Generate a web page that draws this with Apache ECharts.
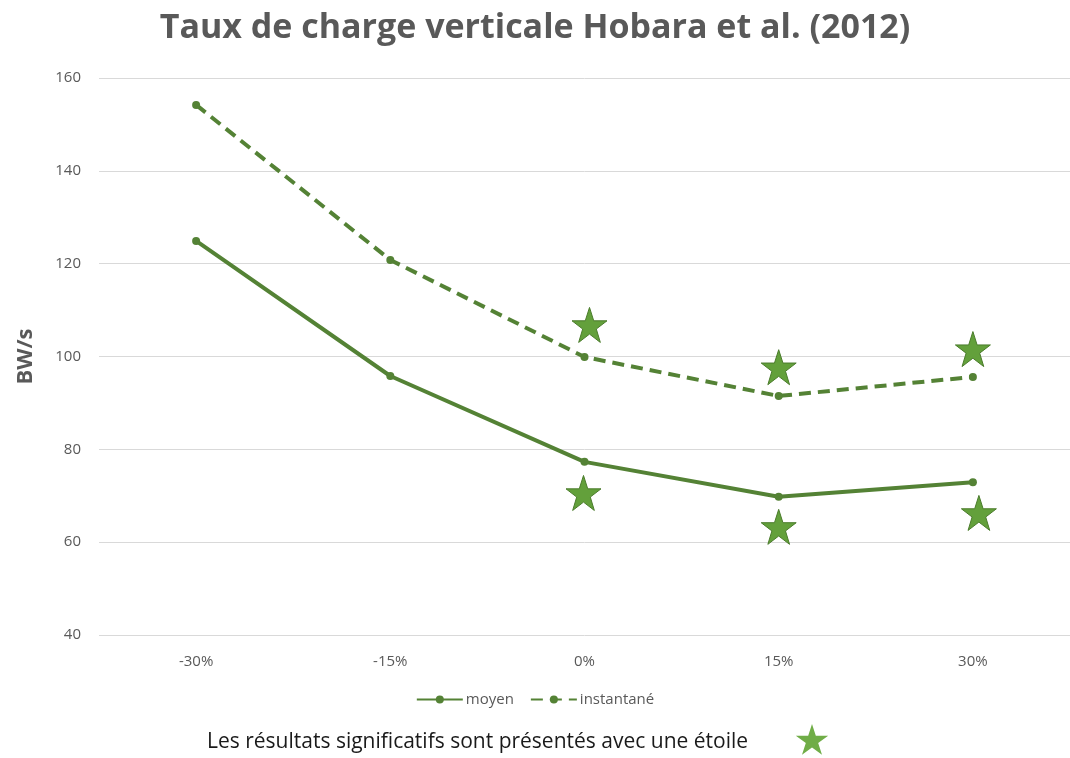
<!DOCTYPE html>
<html>
<head>
<meta charset="utf-8">
<script src="https://cdn.jsdelivr.net/npm/echarts@6/dist/echarts.min.js"></script>
<style>html,body{margin:0;padding:0;background:#fff}#c{width:1070px;height:758px}</style>
</head>
<body>
<div id="c"></div>
<script>
const categories = ['-30%', '-15%', '0%', '15%', '30%'];
const moyen = [124.9, 95.8, 77.3, 69.8, 72.9];
const instantane = [154.2, 120.8, 99.9, 91.5, 95.6];
const starCategories = ['0%', '0%', '15%', '15%', '30%', '30%'];
const starValues = [106.8, 70.6, 97.7, 63.3, 101.6, 66.3];
const starShift = [5, -1, 0, 0, 0, 6];

const STAR = 'path://M50,0 L61.8,35.1 L98.9,35.1 L69,56.7 L80.3,91.9 L50,70 L19.7,91.9 L31,56.7 L1.1,35.1 L38.2,35.1 Z';
function starPoints(cx, cy, R) {
  const pts = [];
  for (let i = 0; i < 10; i++) {
    const r = i % 2 === 0 ? R : R * 0.382;
    const a = -Math.PI / 2 + i * Math.PI / 5;
    pts.push([cx + r * Math.cos(a), cy + r * Math.sin(a)]);
  }
  return pts;
}
const lineColor = '#548235';
const chart = echarts.init(document.getElementById('c'));
chart.setOption({
  animation: false,
  title: {
    text: 'Taux de charge verticale Hobara et al. (2012)',
    left: 'center', top: 6,
    textStyle: { fontFamily: 'Open Sans', fontWeight: 'bold', fontSize: 34, color: '#595959' }
  },
  grid: { left: 99, top: 78, width: 977, height: 557, containLabel: false },
  legend: {
    bottom: 46, left: 'center', itemWidth: 46, itemHeight: 10, itemGap: 16,
    textStyle: { fontFamily: 'Open Sans', fontSize: 15, color: '#595959', padding: [0, 0, 0, -2] },
    data: [{ name: 'moyen' }, { name: 'instantané' }]
  },
  xAxis: {
    type: 'category', data: categories, boundaryGap: true,
    axisLine: { show: false }, axisTick: { show: false },
    axisLabel: { fontFamily: 'Open Sans', fontSize: 15, color: '#595959', margin: 19 }
  },
  yAxis: {
    type: 'value', min: 40, max: 160, interval: 20,
    name: 'BW/s', nameLocation: 'middle', nameGap: 62, nameRotate: 90,
    nameTextStyle: { fontFamily: 'Open Sans', fontWeight: 'bold', fontSize: 22, color: '#595959' },
    axisLine: { show: false }, axisTick: { show: false },
    axisLabel: { fontFamily: 'Open Sans', fontSize: 15, color: '#595959', margin: 18 },
    splitLine: { lineStyle: { color: '#d9d9d9', width: 1 } }
  },
  series: [
    {
      name: 'moyen', type: 'line', data: moyen,
      symbol: 'circle', symbolSize: 8,
      lineStyle: { color: lineColor, width: 4 },
      itemStyle: { color: lineColor }
    },
    {
      name: 'instantané', type: 'line', data: instantane,
      symbol: 'circle', symbolSize: 8,
      lineStyle: { color: lineColor, width: 4, type: [12, 7] },
      itemStyle: { color: lineColor }
    },
    {
      name: 'significatif', type: 'scatter',
      data: starValues.map((v, i) => ({ value: [starCategories[i], v], symbolOffset: [starShift[i], 0] })),
      symbol: STAR, symbolSize: 35,
      itemStyle: { color: '#63a03b', borderColor: '#4a7b2b', borderWidth: 1, opacity: 1 },
      z: 5
    }
  ],
  graphic: [
    {
      type: 'text', left: 207, top: 732,
      style: { text: 'Les résultats significatifs sont présentés avec une étoile', font: '21px "Open Sans"', fill: '#1a1a1a' }
    },
    {
      type: 'polygon',
      shape: { points: starPoints(812, 741, 17) },
      style: { fill: '#70ad47' }
    }
  ]
});
</script>
</body>
</html>
